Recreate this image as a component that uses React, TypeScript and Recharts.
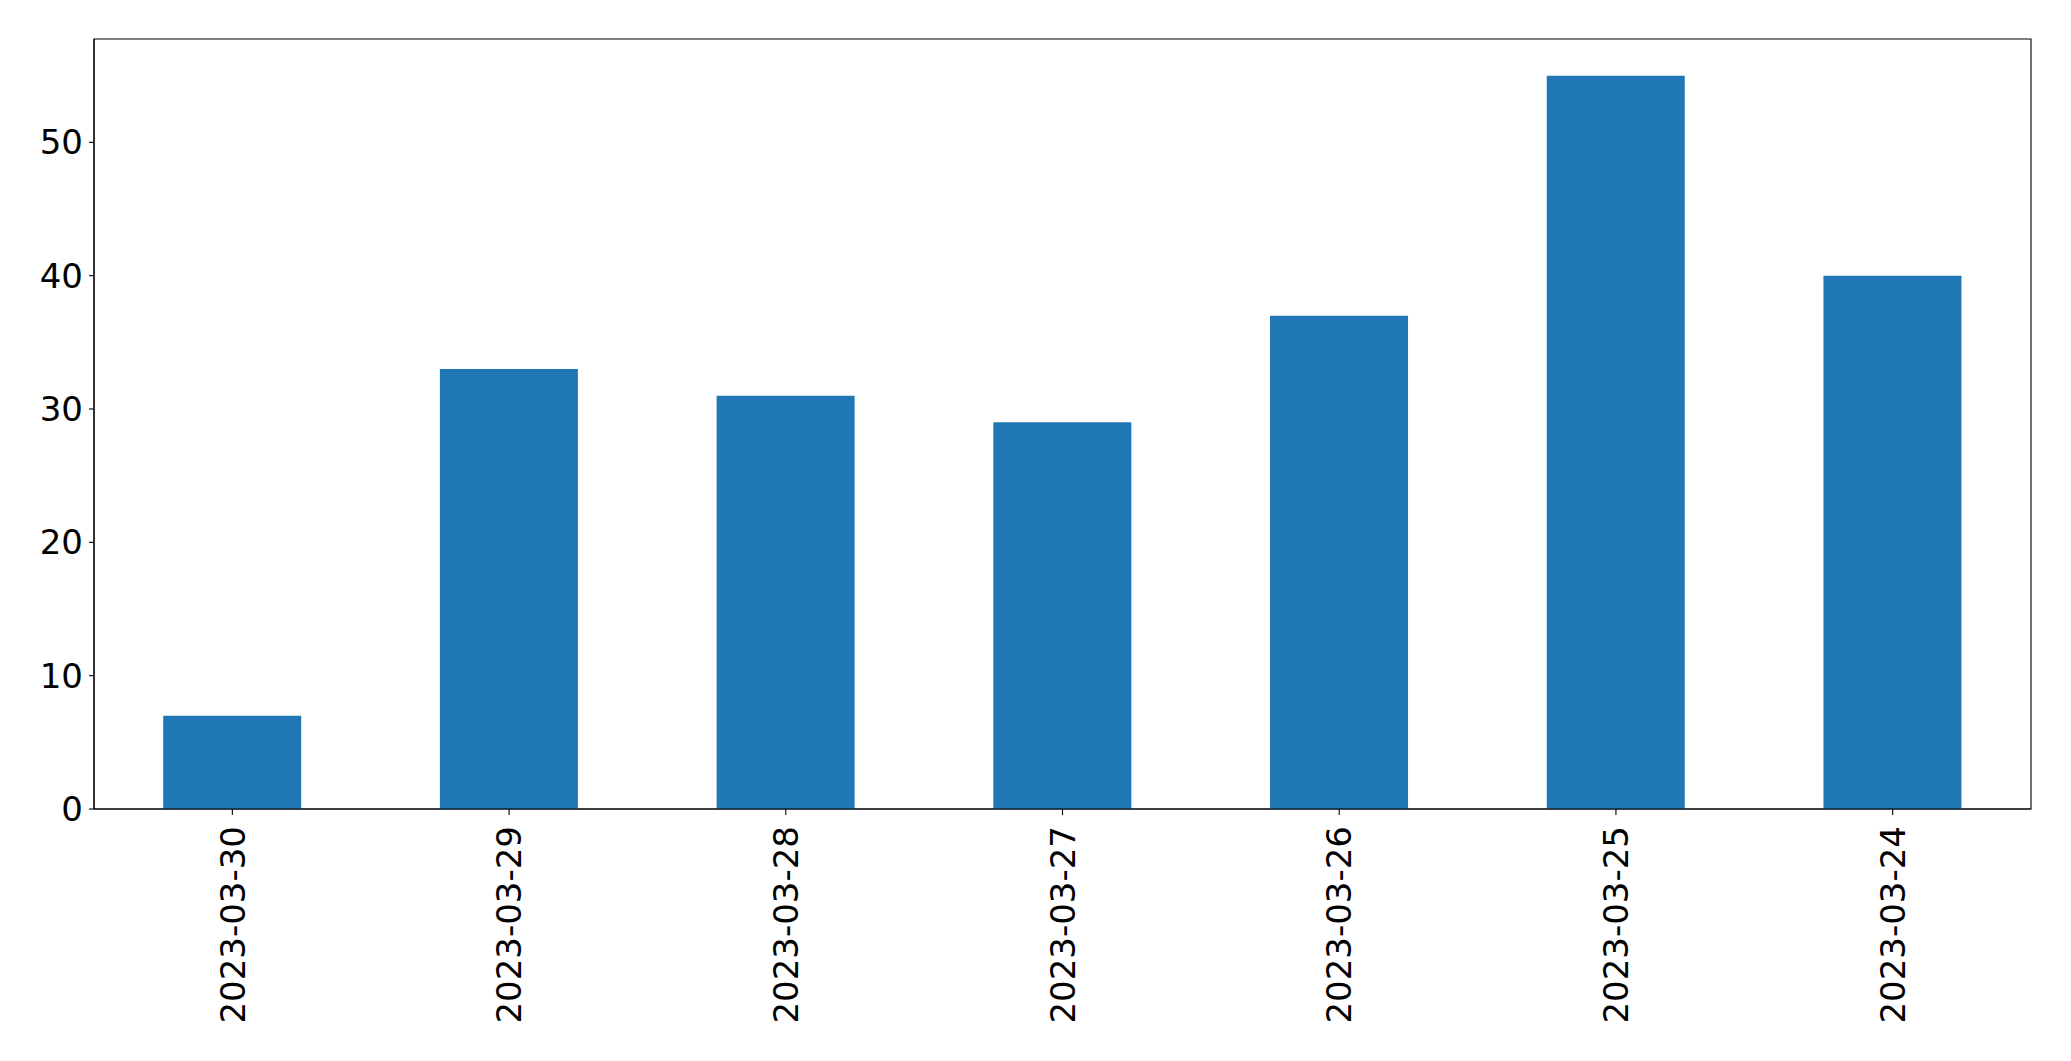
import { BarChart, Bar, XAxis, YAxis, ReferenceArea } from "recharts"

const dates = ["2023-03-30", "2023-03-29", "2023-03-28", "2023-03-27", "2023-03-26", "2023-03-25", "2023-03-24"]
const counts = [7, 33, 31, 29, 37, 55, 40]
const yTicks = [0, 10, 20, 30, 40, 50]
const yMax = 57.75

const data = dates.map((date, i) => ({ date, count: counts[i] }))

const FONT = "DejaVu Sans"

function DateTick({ x, y, payload }: any) {
  return (
    <g transform={`translate(${x},${y}) rotate(-90)`}>
      <text x={-11} y={0} dy="0.36em" textAnchor="end" fill="#000" fontSize={34} fontFamily={FONT}>
        {payload.value}
      </text>
    </g>
  )
}

export default function App() {
  return (
    <div style={{ position: "absolute", left: 0, top: 0, background: "#fff" }}>
      <BarChart
        width={2071}
        height={1061}
        data={data}
        margin={{ top: 39, right: 40, bottom: 0, left: 0 }}
        barCategoryGap="25%"
      >
        <XAxis
          dataKey="date"
          interval={0}
          height={252}
          tick={<DateTick />}
          tickSize={6}
          tickMargin={0}
          axisLine={{ stroke: "#000", strokeWidth: 1.1 }}
          tickLine={{ stroke: "#000", strokeWidth: 1.1 }}
        />
        <YAxis
          domain={[0, yMax]}
          ticks={yTicks}
          width={94}
          tickSize={5}
          tickMargin={6}
          tick={{ fill: "#000", fontSize: 34, fontFamily: FONT }}
          axisLine={{ stroke: "#000", strokeWidth: 1.1 }}
          tickLine={{ stroke: "#000", strokeWidth: 1.1 }}
        />
        <Bar dataKey="count" fill="#1f77b4" isAnimationActive={false} />
        {/* plot frame */}
        <ReferenceArea y1={0} y2={yMax} fill="none" stroke="#000" strokeWidth={1.1} fillOpacity={0} />
      </BarChart>
    </div>
  )
}
